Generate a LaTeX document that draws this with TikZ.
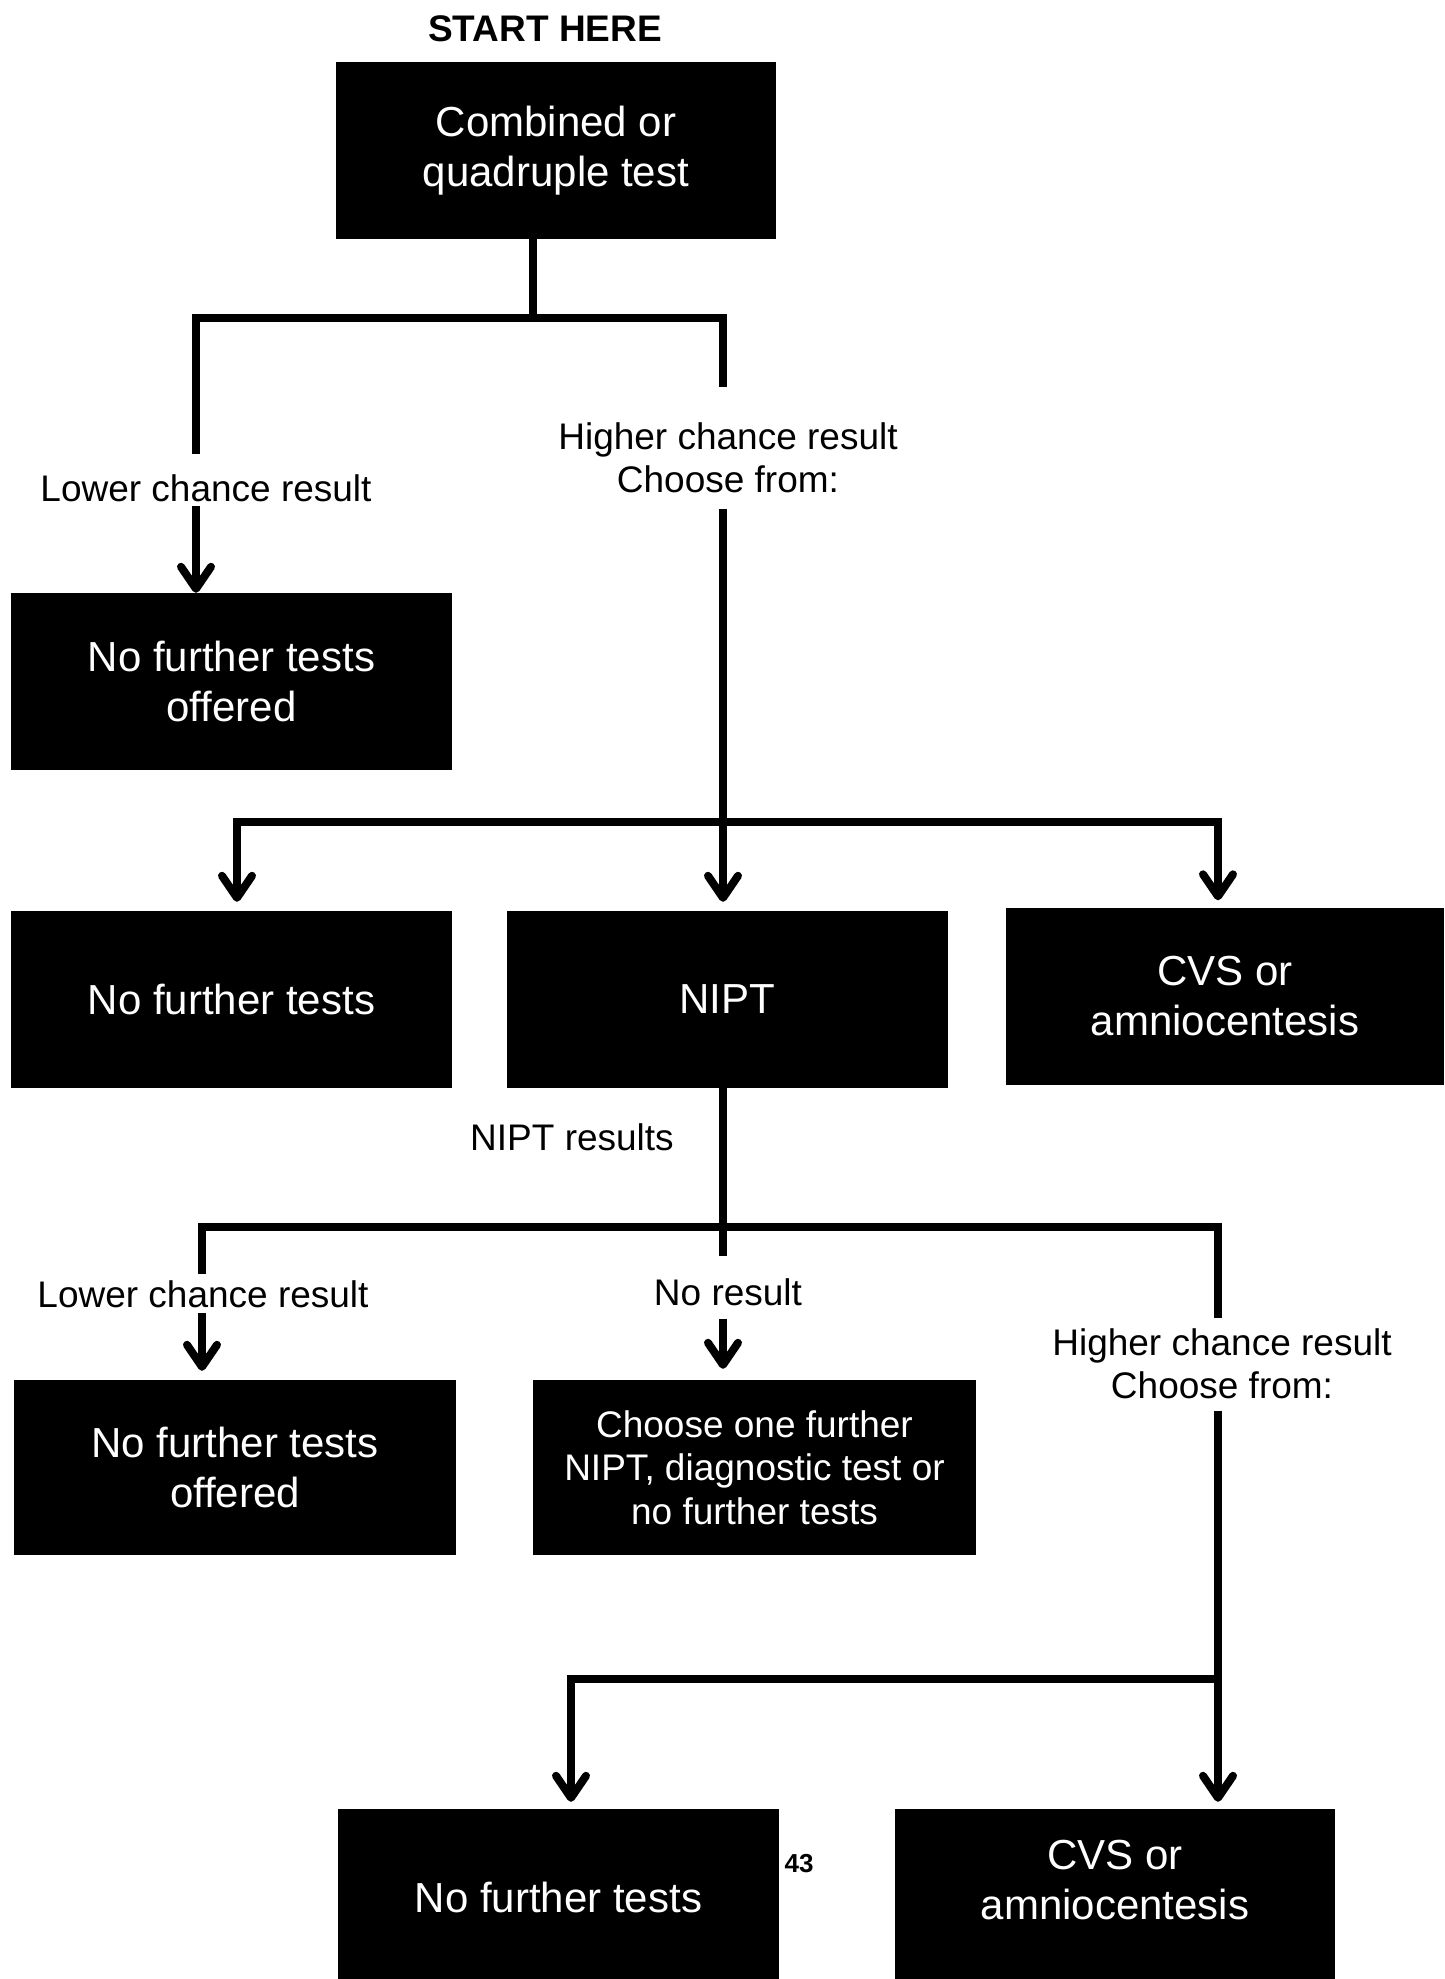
\documentclass[tikz,border=0pt]{standalone}
\usepackage{fontspec}
\setmainfont{Liberation Sans}
\usetikzlibrary{arrows.meta,calc}
\begin{document}
\begin{tikzpicture}[x=1pt,y=-1pt,
  box/.style={fill=black, text=white, minimum width=441pt, minimum height=177pt,
              inner sep=0pt, align=center, font=\fontsize{42}{49.5}\selectfont},
  boxtxt/.style={text=white, inner sep=0pt, align=center, font=\fontsize{42}{49.5}\selectfont},
  lbl/.style={inner sep=0pt, align=center, font=\fontsize{37}{43}\selectfont},
  ln/.style={line width=8pt},
  tip/.tip={Straight Barb[length=22pt,width=30pt,round]},
  arr/.style={ln, -tip},
  arrs/.style={ln, tip-tip}
]
\useasboundingbox (0,0) rectangle (1444,1979);

% heading and first test
\node[inner sep=0pt, font=\bfseries\fontsize{37}{40}\selectfont] (start) at (545,29) {START HERE};
\node[box, minimum width=440pt] (b1) at (556,150.5) {Combined or\\quadruple test};

% first result labels
\node[lbl] (l1) at (206,488) {Lower chance result};
\node[lbl] (h1) at (728,457.5) {Higher chance result\\Choose from:};

% outcome boxes
\node[box] (n1) at (231.5,681.5) {No further tests\\offered};
\node[box] (n2) at (231.5,999.5) {No further tests};
\node[box] (nipt) at (727.5,999.5) {NIPT};
\node[box, minimum width=438pt] (cvs1) at (1225,996) {CVS or\\amniocentesis};

% NIPT result labels
\node[lbl] (nr) at (572,1137) {NIPT results};
\node[lbl] (l2) at (203,1294) {Lower chance result};
\node[lbl] (nores) at (728,1292) {No result};
\node[lbl] (h2) at (1222,1363.5) {Higher chance result\\Choose from:};

\node[box, minimum width=442pt, minimum height=175pt] (n3) at (235,1467.5) {No further tests\\offered};
\node[box, minimum width=443pt, minimum height=175pt, font=\fontsize{37}{43.5}\selectfont]
  (choose) at (754.5,1467.5) {Choose one further\\NIPT, diagnostic test or\\no further tests};

\node[box] (n4) at (558.5,1897.5) {No further tests};
\node[box, minimum width=440pt] (cvs2) at (1115,1897.5) {};
\node[boxtxt] (cvs2t) at (1115,1880) {CVS or\\amniocentesis};

\node[inner sep=0pt, font=\bfseries\fontsize{26}{28}\selectfont] (pg) at (799,1864) {43};

% junction points
\coordinate (j1) at (533,318);
\coordinate (s1l) at (196,318);
\coordinate (s1r) at (723,318);
\coordinate (s2l) at (237,822);
\coordinate (s2r) at (1218,822);
\coordinate (s3l) at (202,1227);
\coordinate (s3r) at (1218,1227);
\coordinate (s4l) at (571,1679);
\coordinate (s4r) at (1218,1679);

% first split
\draw[ln] (b1.south -| j1) -- (j1);
\draw[ln] ($(l1.north -| s1l)+(0,-20)$) -- (s1l) -- (s1r) -- ($(h1.north -| s1r)+(0,-35)$);
\draw[arr] ($(l1.south -| s1l)+(0,4)$) -- (n1.north -| s1l);
\draw[arr, shorten >=9pt] ($(h1.south -| s1r)+(0,16)$) -- (nipt.north -| s1r);

% second split
\draw[arrs, shorten <=9pt, shorten >=7pt] (n2.north -| s2l) -- (s2l) -- (s2r) -- (cvs1.north -| s2r);

% NIPT results split
\draw[ln] (nipt.south -| s1r) -- ($(nores.north -| s1r)+(0,-22)$);
\draw[ln] ($(l2.north -| s3l)+(0,-6)$) -- (s3l) -- (s3r) -- ($(h2.north -| s3r)+(0,-10)$);
\draw[arr, shorten >=9pt] ($(l2.south -| s3l)+(0,5)$) -- (n3.north -| s3l);
\draw[arr, shorten >=11pt] ($(nores.south -| s1r)+(0,13)$) -- (choose.north -| s1r);
\draw[arr, shorten >=7pt] ($(h2.south -| s3r)+(0,12)$) -- (cvs2.north -| s3r);
\draw[arr, shorten >=7pt] (s4r) -- (s4l) -- (n4.north -| s4l);
\end{tikzpicture}
\end{document}
